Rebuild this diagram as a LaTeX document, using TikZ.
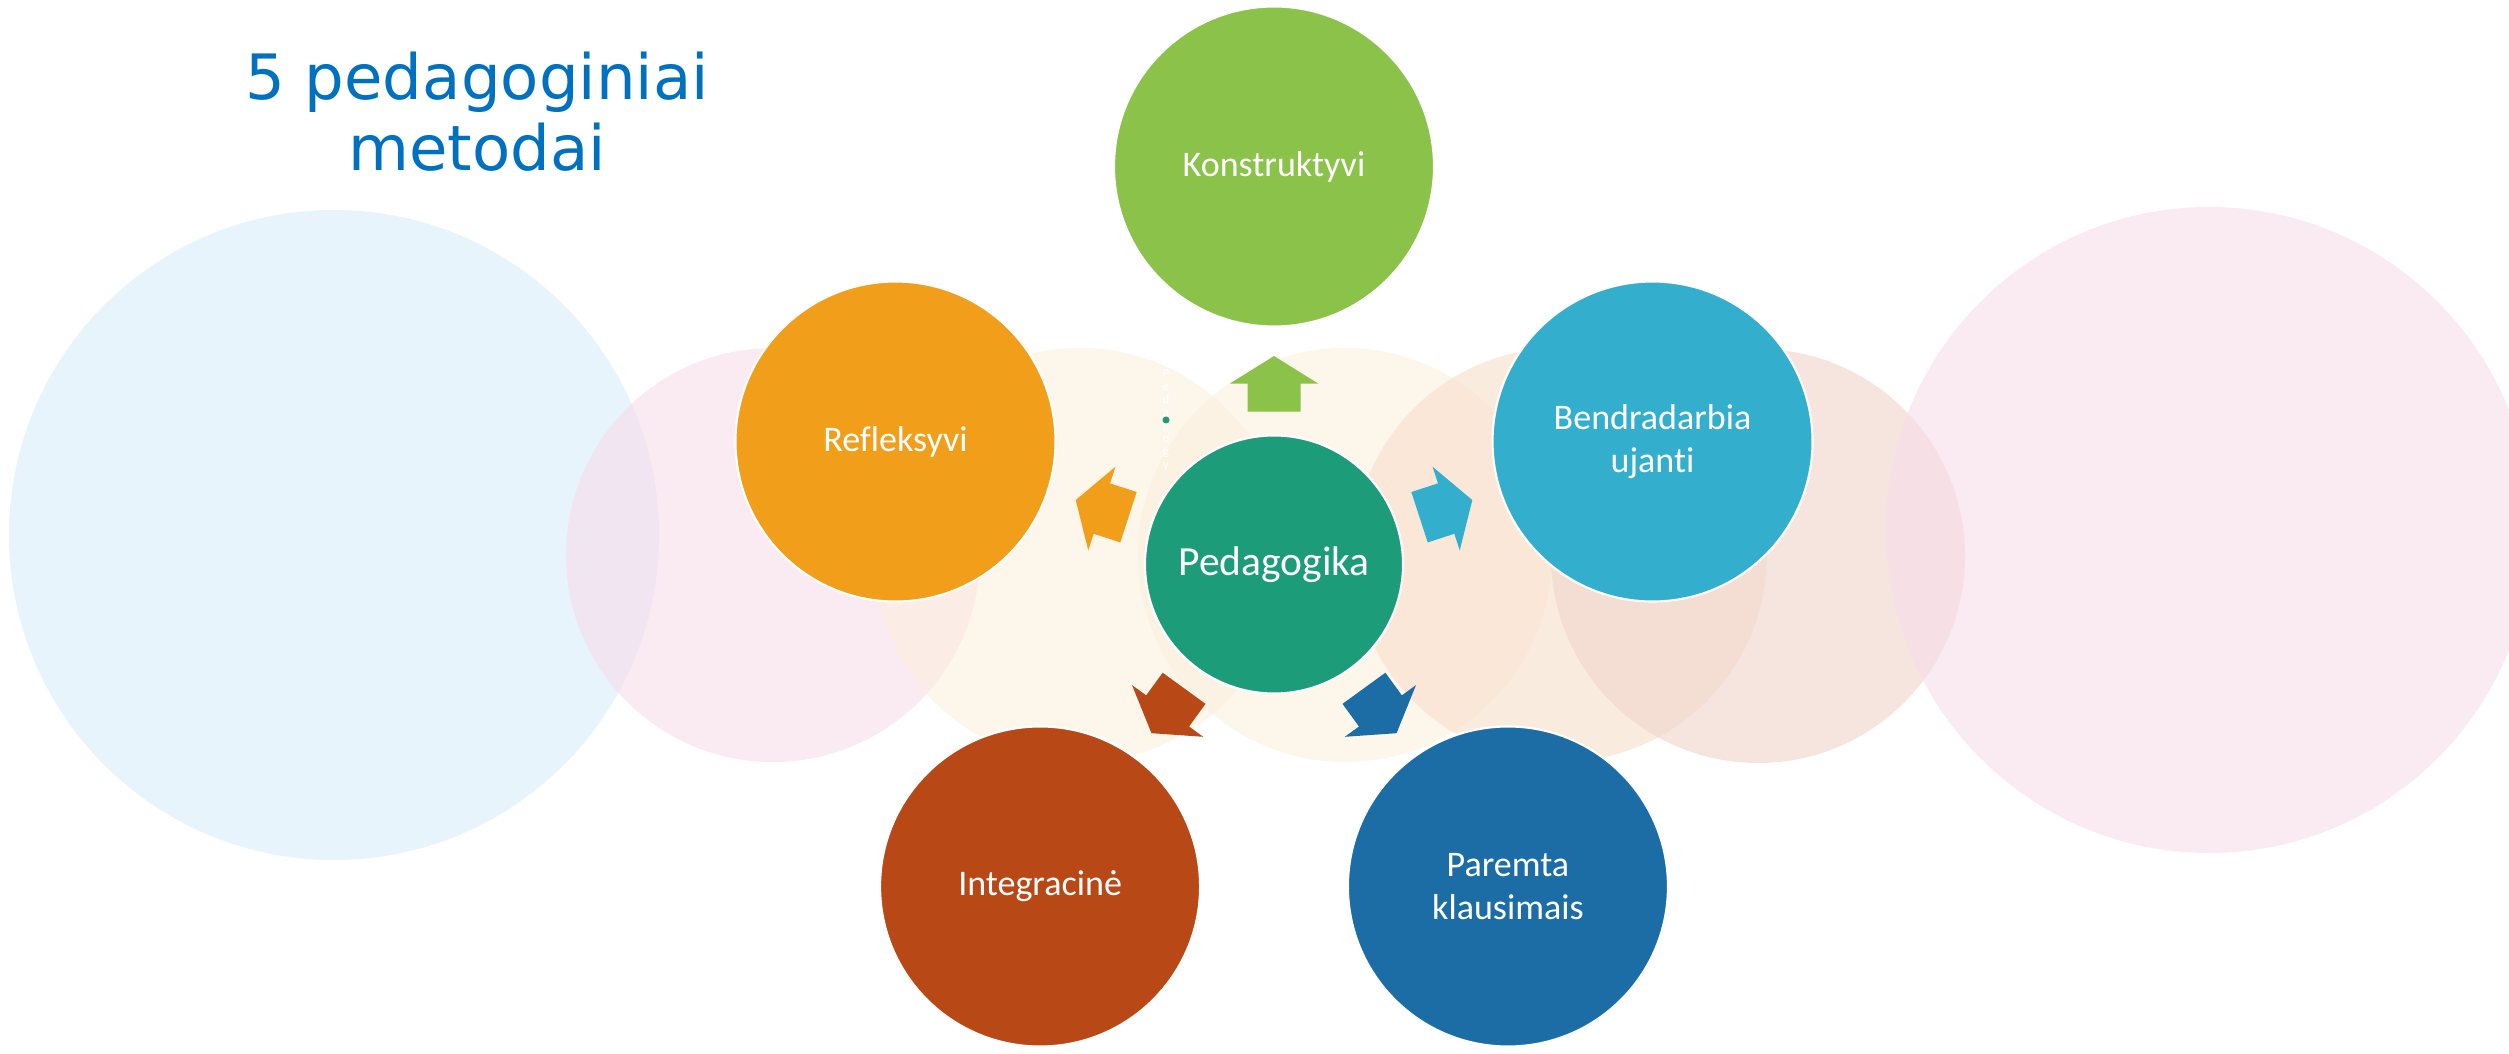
\documentclass[tikz,border=0pt]{standalone}
\usepackage{fontspec}
\setmainfont{Carlito}[Ligatures=NoCommon]
\newfontfamily\titlefont{DejaVu Sans}
\usepackage{xcolor}
\usepackage{tikz}
\usetikzlibrary{calc}

\definecolor{titleBlue}{HTML}{0070C0}
\definecolor{konGreen}{HTML}{8BC249}
\definecolor{benBlue}{HTML}{33AFCD}
\definecolor{parBlue}{HTML}{1C6DA6}
\definecolor{intRed}{HTML}{B84816}
\definecolor{refOrange}{HTML}{F19E1B}
\definecolor{pedTeal}{HTML}{1D9C79}
\definecolor{bgBlue}{RGB}{215,237,250}
\definecolor{bgPink}{RGB}{247,220,233}
\definecolor{bgCream}{RGB}{252,240,222}
\definecolor{bgPeach}{RGB}{248,222,202}
\definecolor{bgRose}{RGB}{240,212,202}

\tikzset{
    bgcircle/.style={fill=#1, opacity=0.6},
    method/.style={circle, fill=#1, draw=white, line width=0.6pt,
        minimum size=3.2cm, inner sep=0pt, text=white, align=center,
        font=\fontsize{10.25}{12}\selectfont},
    hub/.style={circle, fill=pedTeal, draw=white, line width=0.6pt,
        minimum size=2.58cm, inner sep=0pt, text=white,
        font=\fontsize{11.8}{14}\selectfont}
}

\begin{document}
\begin{tikzpicture}
    % \draw[help lines] grid (25,10);
    \fill[white] (0,0) rectangle (25.09,10.53);
    \useasboundingbox (0,0) rectangle (25.09,10.53);

    % Background circles
    \fill[bgcircle=bgBlue]  (3.34,5.18)  circle (3.25);
    \fill[bgcircle=bgPink]  (7.73,4.98)  circle (2.07);
    \fill[bgcircle=bgCream] (10.80,4.98) circle (2.07);
    \fill[bgcircle=bgCream] (13.45,4.98) circle (2.07);
    \fill[bgcircle=bgPeach] (15.60,4.98) circle (2.07);
    \fill[bgcircle=bgRose]  (17.58,4.97) circle (2.07);
    \fill[bgcircle=bgPink]  (22.09,5.23) circle (3.23);

    % Title
    \node[text=titleBlue, anchor=base, inner sep=0pt,
        font=\titlefont\fontsize{17.8}{20.2}\selectfont] (title1) at (4.77,9.53) {5 pedagoginiai};
    \node[text=titleBlue, anchor=base, inner sep=0pt,
        font=\titlefont\fontsize{17.8}{20.2}\selectfont] (title2) at (4.77,8.82) {metodai};

    % Faint label and dot
    \node[text=white, align=center, inner sep=0pt,
        font=\fontsize{3.6}{3.7}\selectfont] (pedy) at (11.66,6.33) {P\\e\\d\\a\\g\\o\\g\\y};
    \fill[pedTeal] (pedy.center) circle (0.035);

    % Hub
    \node[hub] (hub) at (12.74,4.885) {Pedagogika};

    % Arrows
    \foreach \ang/\col in {90/konGreen,18/benBlue,-54/parBlue,-126/intRed,162/refOrange} {
        \begin{scope}[shift={(hub.center)}, rotate=\ang-90]
            \fill[\col] (-0.265,1.53) -- (0.265,1.53) -- (0.265,1.81) -- (0.44,1.81)
                -- (0,2.085) -- (-0.44,1.81) -- (-0.265,1.81) -- cycle;
        \end{scope}
    }

    % Methods
    \node[method=konGreen]  (kon) at ($(hub)+(90:3.98)$)  {Konstruktyvi};
    \node[method=benBlue]   (ben) at ($(hub)+(18:3.98)$)  {Bendradarbia\\ujanti};
    \node[method=parBlue]   (par) at ($(hub)+(-54:3.98)$) {Paremta\\klausimais};
    \node[method=intRed]    (int) at ($(hub)+(-126:3.98)$) {Integracinė};
    \node[method=refOrange] (ref) at ($(hub)+(162:3.98)$) {Refleksyvi};

\end{tikzpicture}
\end{document}
